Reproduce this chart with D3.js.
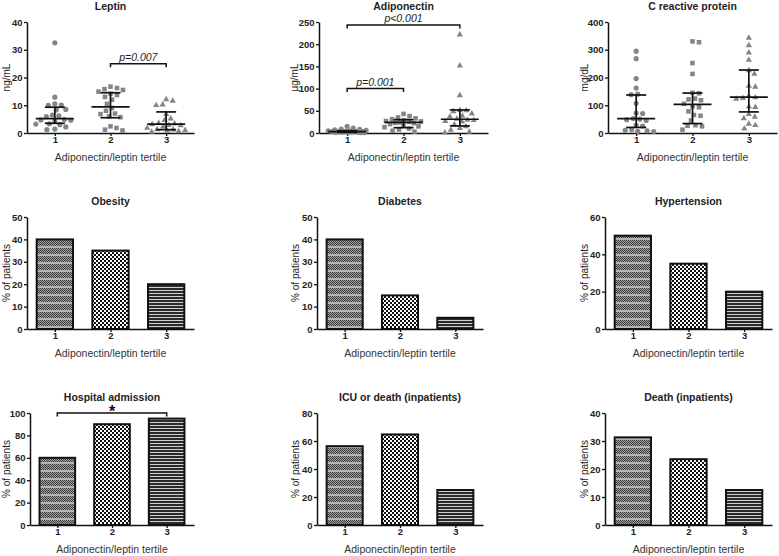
<!DOCTYPE html>
<html><head><meta charset="utf-8">
<script src="https://cdn.jsdelivr.net/npm/d3@7"></script>
<style>body{margin:0;background:#fff}svg{display:block}</style>
</head><body><svg id="c" width="779" height="556"></svg>
<script>
// ---------- DATA ----------
const tertiles = ["1", "2", "3"];
const xAxisTitle = "Adiponectin/leptin tertile";

const leptinT1 = [32.5, 12.9, 10.5, 10.1, 10.0, 8.5, 8.3, 6.5, 6.2, 5.9, 4.9, 4.7, 4.6, 4.4, 3.3, 3.2, 3.0, 2.2, 1.4, 1.2];
const leptinT2 = [16.7, 16.2, 15.8, 15.5, 14.9, 14.2, 13.7, 13.0, 12.0, 10.5, 9.0, 8.0, 7.0, 6.8, 6.0, 5.7, 2.4, 1.8, 1.2, 0.9];
const leptinT3 = [12.3, 11.8, 10.4, 10.2, 7.0, 5.4, 4.8, 3.8, 3.6, 3.3, 3.0, 2.9, 2.5, 2.0, 1.5, 1.4, 1.2, 1.0, 0.8, 0.6];
const leptinMedian = [5.2, 9.4, 3.2];
const leptinQ1 = [3.5, 5.5, 1.2];
const leptinQ3 = [9.3, 14.5, 7.6];
const leptinTicks = [0, 10, 20, 30, 40];

const adipoT1 = [15, 11, 9, 8, 7, 6, 5, 5, 4, 4, 3, 3, 3, 2.5, 2, 2, 1.5, 1.5, 1, 1];
const adipoT2 = [43, 38, 35, 33, 31, 29, 27, 26, 25, 24, 23, 22, 20, 18, 15, 13, 10, 8, 5, 3];
const adipoT3 = [223, 153, 86, 53, 52, 50, 45, 40, 38, 33, 31, 30, 28, 27, 20, 16, 12, 8, 4, 2];
const adipoMedian = [3, 24, 31];
const adipoQ1 = [1.5, 12, 16];
const adipoQ3 = [5, 30, 52];
const adipoTicks = [0, 50, 100, 150, 200, 250];

const crpT1 = [295, 268, 196, 162, 140, 138, 107, 72, 70, 52, 50, 48, 45, 28, 25, 12, 10, 8, 6, 5];
const crpT2 = [330, 327, 252, 213, 145, 143, 124, 121, 118, 105, 96, 93, 78, 65, 62, 45, 28, 26, 24, 12];
const crpT3 = [345, 318, 292, 265, 228, 215, 172, 168, 135, 130, 128, 125, 97, 95, 70, 60, 55, 35, 30, 18];
const crpMedian = [52, 103, 129];
const crpQ1 = [20, 34, 76];
const crpQ3 = [137, 144, 227];
const crpTicks = [0, 100, 200, 300, 400];

const obesity = [40, 35, 20];
const diabetes = [40, 15, 5];
const hypertension = [50, 35, 20];
const hospital = [60, 90, 95];
const icuDeath = [56.3, 64.7, 25];
const death = [31.3, 23.5, 12.5];
const ticks50 = [0, 10, 20, 30, 40, 50];
const ticks60 = [0, 20, 40, 60];
const ticks100 = [0, 20, 40, 60, 80, 100];
const ticks80 = [0, 20, 40, 60, 80];
const ticks40 = [0, 10, 20, 30, 40];

// ---------- DRAWING ----------
const FONT = "Arial, 'Liberation Sans', Helvetica, sans-serif";
const svg = d3.select("#c").style("font-family", FONT);
svg.append("rect").attr("width", 779).attr("height", 556).attr("fill", "#fff");

const defs = svg.append("defs");
// pattern tertile 1: fine grey checker with lighter horizontal bands
{
  const p = defs.append("pattern").attr("id", "pat1").attr("patternUnits", "userSpaceOnUse")
    .attr("width", 2).attr("height", 8);
  p.append("rect").attr("width", 2).attr("height", 8).attr("fill", "#a4a4a4");
  for (let r = 0; r < 6; r++) {
    p.append("rect").attr("x", r % 2).attr("y", r).attr("width", 1).attr("height", 1).attr("fill", "#3a3a3a");
  }
  p.append("rect").attr("x", 0).attr("y", 6).attr("width", 2).attr("height", 2).attr("fill", "#b4b4b4");
}
// pattern tertile 2: black/white checkerboard
{
  const p = defs.append("pattern").attr("id", "pat2").attr("patternUnits", "userSpaceOnUse")
    .attr("width", 4).attr("height", 4);
  p.append("rect").attr("width", 4).attr("height", 4).attr("fill", "#fff");
  p.append("rect").attr("x", 0).attr("y", 0).attr("width", 2).attr("height", 2).attr("fill", "#111");
  p.append("rect").attr("x", 2).attr("y", 2).attr("width", 2).attr("height", 2).attr("fill", "#111");
}
// pattern tertile 3: horizontal stripes
{
  const p = defs.append("pattern").attr("id", "pat3").attr("patternUnits", "userSpaceOnUse")
    .attr("width", 4).attr("height", 3);
  p.append("rect").attr("width", 4).attr("height", 3).attr("fill", "#d0d0d0");
  p.append("rect").attr("y", 0).attr("width", 4).attr("height", 2).attr("fill", "#2a2a2a");
}

function frame(cfg) {
  const g = svg.append("g");
  const y = d3.scaleLinear().domain([0, d3.max(cfg.ticks)]).range([cfg.yBot, cfg.yTop]);
  const xp = d3.scalePoint().domain(tertiles).range([cfg.x0, cfg.x1]).padding(0.5);

  const ya = g.append("g").attr("transform", `translate(${cfg.x0},0)`)
    .call(d3.axisLeft(y).tickValues(cfg.ticks).tickSize(3).tickSizeOuter(0).tickPadding(1.5));
  const xa = g.append("g").attr("transform", `translate(0,${cfg.yBot})`)
    .call(d3.axisBottom(xp).tickSize(3).tickSizeOuter(0).tickPadding(0.5));
  [ya, xa].forEach(a => {
    a.select(".domain").attr("stroke", "#111").attr("stroke-width", 1.5);
    a.selectAll(".tick line").attr("stroke", "#111").attr("stroke-width", 1.3);
    a.selectAll(".tick text").attr("fill", "#222").style("font-size", "9.5px")
      .style("font-weight", "bold").style("font-family", FONT);
  });

  const cx = (cfg.x0 + cfg.x1) / 2;
  g.append("text").attr("x", cx).attr("y", cfg.yTop - 12.5).attr("text-anchor", "middle")
    .style("font-size", "10.5px").style("font-weight", "bold").attr("fill", "#222").text(cfg.title);
  g.append("text").attr("x", cx).attr("y", cfg.yBot + 27.5).attr("text-anchor", "middle")
    .style("font-size", "10.5px").attr("fill", "#333").text(xAxisTitle);
  g.append("text").attr("transform", `translate(${cfg.ylx},${(cfg.yTop + cfg.yBot) / 2}) rotate(-90)`)
    .attr("text-anchor", "middle").attr("dy", "0.35em")
    .style("font-size", "10px").attr("fill", "#222").text(cfg.ylabel);
  return { g, y, xp };
}

// deterministic column-scatter layout, limited to +-maxW around the column centre
function swarm(values, cx, y, d, maxW) {
  const pts = values.map(v => ({ v, y: y(v) })).sort((a, b) => a.y - b.y);
  const placed = [];
  pts.forEach(p => {
    let bestX = cx, bestD = -1;
    for (let k = 0; k < 400; k++) {
      const off = (k % 2 ? 1 : -1) * Math.ceil(k / 2) * 0.5;
      if (Math.abs(off) > maxW) break;
      const xx = cx + off;
      const md = placed.length ? d3.min(placed, q => Math.hypot(q.x - xx, q.y - p.y)) : Infinity;
      if (md >= d) { bestX = xx; bestD = md; break; }
      if (md > bestD + 0.3) { bestD = md; bestX = xx; }
    }
    p.x = bestX; placed.push(p);
  });
  return pts;
}

const symbols = [d3.symbol(d3.symbolCircle, 21), d3.symbol(d3.symbolSquare, 21), d3.symbol(d3.symbolTriangle, 17)];

function scatterPanel(cfg) {
  const { g, y, xp } = frame(cfg);
  cfg.groups.forEach((vals, i) => {
    const cx = xp(tertiles[i]);
    const pts = swarm(vals, cx, y, 6.2, 19);
    g.append("g").selectAll("path").data(pts).join("path")
      .attr("d", symbols[i]).attr("fill", "#858585")
      .attr("transform", d => `translate(${d.x},${d.y + (i === 2 ? 0.6 : 0)})`);
    const eb = g.append("g").attr("stroke", "#111").attr("stroke-width", 1.7).attr("fill", "none");
    eb.append("line").attr("x1", cx).attr("x2", cx).attr("y1", y(cfg.q1[i])).attr("y2", y(cfg.q3[i]));
    eb.append("line").attr("x1", cx - 10).attr("x2", cx + 10).attr("y1", y(cfg.q1[i])).attr("y2", y(cfg.q1[i]));
    eb.append("line").attr("x1", cx - 10).attr("x2", cx + 10).attr("y1", y(cfg.q3[i])).attr("y2", y(cfg.q3[i]));
    eb.append("line").attr("x1", cx - 19).attr("x2", cx + 19).attr("y1", y(cfg.med[i])).attr("y2", y(cfg.med[i]));
  });
  (cfg.brackets || []).forEach(b => {
    const xa = xp(b.from), xb = xp(b.to), yy = y(b.value);
    g.append("path").attr("d", `M${xa},${yy + 3.5}V${yy}H${xb}V${yy + 3.5}`)
      .attr("fill", "none").attr("stroke", "#111").attr("stroke-width", 1.5);
    g.append("text").attr("x", (xa + xb) / 2).attr("y", yy - 3).attr("text-anchor", "middle")
      .style("font-size", "10.5px").style("font-style", "italic").attr("fill", "#222").text(b.text);
  });
}

function barPanel(cfg) {
  const { g, y } = frame(cfg);
  const xb = d3.scaleBand().domain(tertiles).range([cfg.x0, cfg.x1]).paddingInner(0.33).paddingOuter(0.165);
  g.insert("g", ":first-child").selectAll("rect").data(cfg.values).join("rect")
    .attr("x", (d, i) => xb(tertiles[i]) + 0.5)
    .attr("width", xb.bandwidth() - 1)
    .attr("y", d => y(d))
    .attr("height", d => y(0) - y(d))
    .attr("fill", (d, i) => `url(#pat${i + 1})`)
    .attr("stroke", "#111").attr("stroke-width", 2);
  (cfg.brackets || []).forEach(b => {
    const xa = xb(b.from) + xb.bandwidth() / 2, xz = xb(b.to) + xb.bandwidth() / 2, yy = y(b.value);
    g.append("path").attr("d", `M${xa},${yy + 3.5}V${yy}H${xz}V${yy + 3.5}`)
      .attr("fill", "none").attr("stroke", "#111").attr("stroke-width", 1.5);
    g.append("text").attr("x", (xa + xz) / 2).attr("y", yy + 3.5).attr("text-anchor", "middle")
      .style("font-size", "16px").style("font-weight", "bold").attr("fill", "#111").text(b.text);
  });
}

// Row 1: scatter plots
scatterPanel({ title: "Leptin", ylabel: "ng/mL", groups: [leptinT1, leptinT2, leptinT3],
  med: leptinMedian, q1: leptinQ1, q3: leptinQ3, ticks: leptinTicks,
  x0: 27, x1: 194, yTop: 22, yBot: 133, ylx: 6,
  brackets: [{ from: "2", to: "3", value: 25, text: "p=0.007" }] });
scatterPanel({ title: "Adiponectin", ylabel: "µg/mL", groups: [adipoT1, adipoT2, adipoT3],
  med: adipoMedian, q1: adipoQ1, q3: adipoQ3, ticks: adipoTicks,
  x0: 319, x1: 488, yTop: 22, yBot: 133, ylx: 294,
  brackets: [{ from: "1", to: "3", value: 243, text: "p<0.001" }, { from: "1", to: "2", value: 100, text: "p=0.001" }] });
scatterPanel({ title: "C reactive protein", ylabel: "mg/dL", groups: [crpT1, crpT2, crpT3],
  med: crpMedian, q1: crpQ1, q3: crpQ3, ticks: crpTicks,
  x0: 608, x1: 777, yTop: 22, yBot: 133, ylx: 584 });

// Row 2: bars
barPanel({ title: "Obesity", ylabel: "% of patients", values: obesity, ticks: ticks50,
  x0: 27, x1: 194, yTop: 217, yBot: 329, ylx: 6 });
barPanel({ title: "Diabetes", ylabel: "% of patients", values: diabetes, ticks: ticks50,
  x0: 317, x1: 483, yTop: 217, yBot: 329, ylx: 295 });
barPanel({ title: "Hypertension", ylabel: "% of patients", values: hypertension, ticks: ticks60,
  x0: 605, x1: 772, yTop: 217, yBot: 329, ylx: 584 });

// Row 3: bars
barPanel({ title: "Hospital admission", ylabel: "% of patients", values: hospital, ticks: ticks100,
  x0: 30, x1: 194, yTop: 413, yBot: 525, ylx: 6,
  brackets: [{ from: "1", to: "3", value: 100, text: "*" }] });
barPanel({ title: "ICU or death (inpatients)", ylabel: "% of patients", values: icuDeath, ticks: ticks80,
  x0: 317, x1: 483, yTop: 413, yBot: 525, ylx: 295 });
barPanel({ title: "Death (inpatients)", ylabel: "% of patients", values: death, ticks: ticks40,
  x0: 605, x1: 772, yTop: 413, yBot: 525, ylx: 584 });
</script>
</body></html>
